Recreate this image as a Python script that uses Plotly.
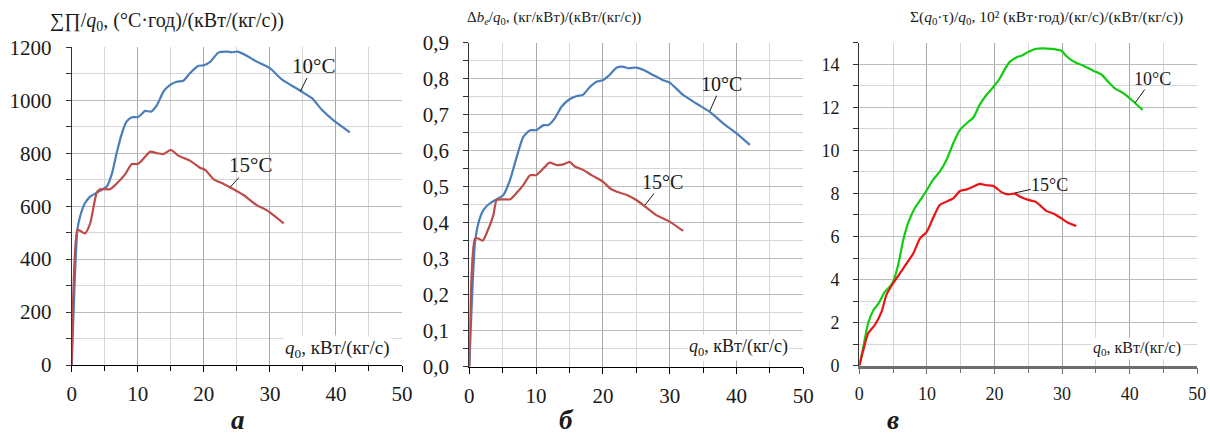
import plotly.graph_objects as go

# ---------------- data ----------------
# Panel a: ΣΠ/q0
a_x10 = [0, 0.86, 1.26, 2.0, 2.8, 3.8, 4.5, 5.3, 6.1, 6.8, 7.6, 8.3, 9.1, 10, 10.6, 11.1, 12, 12.9, 13.9,
         14.9, 15.9, 16.9, 17.9, 19.2, 20, 21, 22.2, 23.5, 24.2, 25.1, 26.3, 28, 30, 31.8, 34.8, 36.4,
         37.9, 39.6, 42.1]
a_y10 = [0, 510, 560, 611, 636, 651, 661, 674, 724, 800, 875, 919, 936, 936, 948, 960, 957, 982, 1033,
         1058, 1070, 1074, 1102, 1130, 1132, 1146, 1180, 1184, 1181, 1184, 1171, 1146, 1121, 1079, 1033, 1007,
         963, 925, 879]
a_x15 = [0, 0.86, 1.26, 2.0, 2.8, 3.8, 4.3, 5.8, 6.6, 8.1, 9.1, 10, 10.6, 11.9, 12.9, 13.9, 15, 16.2,
         17.9, 19.4, 20.2, 21.5, 23, 24.5, 26, 28, 29.5, 32.1]
a_y15 = [0, 510, 507, 497, 535, 652, 664, 664, 680, 721, 759, 759, 772, 806, 800, 797, 812, 790,
         772, 745, 737, 701, 684, 664, 642, 604, 585, 535]

# Panel b: Δbe/q0
b_x10 = [0, 0.85, 1.35, 2.1, 3.1, 4.1, 5.1, 6.1, 7.1, 8.1, 9.1, 10, 11.1, 11.8, 12.8, 13.8, 15, 16.1, 17,
         18.1, 19.1, 20, 20.8, 22.1, 23.1, 23.8, 25, 26.1, 27.5, 29, 30, 32, 34, 36, 38, 40, 42]
b_y10 = [0, 0.343, 0.398, 0.435, 0.454, 0.465, 0.477, 0.519, 0.583, 0.639, 0.657, 0.657, 0.671, 0.671,
         0.690, 0.722, 0.743, 0.752, 0.755, 0.778, 0.792, 0.796, 0.807, 0.831, 0.833, 0.829, 0.831, 0.824,
         0.810, 0.796, 0.789, 0.755, 0.731, 0.708, 0.676, 0.648, 0.616]
b_x15 = [0, 0.85, 1.35, 2.0, 2.8, 3.6, 4.1, 5.1, 6.1, 7.1, 8.1, 9.1, 10, 11.1, 12, 13.1, 14.1, 15, 15.8,
         17.1, 18.3, 20, 21.1, 22.1, 23.6, 25, 27, 28, 30, 32]
b_y15 = [0, 0.356, 0.356, 0.350, 0.380, 0.421, 0.463, 0.465, 0.465, 0.483, 0.505, 0.532, 0.532, 0.551,
         0.567, 0.560, 0.562, 0.569, 0.556, 0.546, 0.532, 0.514, 0.495, 0.486, 0.477, 0.463, 0.435, 0.421,
         0.403, 0.377]

# Panel c: Σ(q0·τ)/q0
c_x10 = [0, 0.6, 1.3, 2.1, 2.8, 3.8, 4.5, 5.0, 5.8, 6.5, 7.3, 8.2, 9.2, 10, 10.9, 11.9, 12.9, 13.9, 14.9,
         15.9, 16.9, 17.8, 18.8, 19.8, 20.8, 21.6, 22.3, 23.3, 24.0, 24.8, 26.0, 27.2, 28.5, 29.3, 29.9,
         30.7, 31.9, 33.1, 34.6, 35.9, 36.8, 37.8, 39.1, 40.3, 41.9]
c_y10 = [0, 0.88, 1.97, 2.59, 2.87, 3.44, 3.67, 3.90, 4.75, 5.84, 6.69, 7.31, 7.77, 8.16, 8.63, 9.01,
         9.55, 10.33, 10.95, 11.26, 11.54, 12.11, 12.57, 12.93, 13.35, 13.81, 14.12, 14.33, 14.39, 14.54,
         14.71, 14.74, 14.71, 14.67, 14.63, 14.36, 14.09, 13.94, 13.70, 13.50, 13.19, 12.88, 12.65, 12.34,
         11.88]
c_x15 = [0, 0.6, 1.3, 2.3, 3.3, 4.0, 5.0, 6.0, 7.0, 8.0, 9.0, 10, 10.9, 11.9, 12.9, 13.9, 14.9, 15.9,
         16.9, 17.8, 18.8, 19.8, 21.1, 22.0, 23.0, 23.8, 25.0, 26.0, 26.7, 27.7, 28.7, 29.9, 30.9, 32.1]
c_y15 = [0, 0.73, 1.50, 1.89, 2.51, 3.28, 3.83, 4.29, 4.75, 5.22, 5.92, 6.23, 6.85, 7.46, 7.62, 7.77,
         8.11, 8.19, 8.32, 8.44, 8.38, 8.35, 8.05, 7.96, 7.99, 7.85, 7.70, 7.62, 7.46, 7.18, 7.07, 6.84,
         6.64, 6.49]

x_ticks = [0, 10, 20, 30, 40, 50]
a_yticks = [0, 200, 400, 600, 800, 1000, 1200]
b_yticks = [0.0, 0.1, 0.2, 0.3, 0.4, 0.5, 0.6, 0.7, 0.8, 0.9]
b_yticklabels = ["0,0", "0,1", "0,2", "0,3", "0,4", "0,5", "0,6", "0,7", "0,8", "0,9"]
c_yticks = [0, 2, 4, 6, 8, 10, 12, 14]

titles = ["∑∏/<i>q</i><sub>0</sub>, (°C·год)/(кВт/(кг/с))",
          "Δ<i>b<sub>e</sub></i>/<i>q</i><sub>0</sub>, (кг/кВт)/(кВт/(кг/с))",
          "Σ(<i>q</i><sub>0</sub>·τ)/<i>q</i><sub>0</sub>, 10² (кВт·год)/(кг/с)/(кВт/(кг/с))"]
xlabel = "<i>q</i><sub>0</sub>, кВт/(кг/с)"
letters = ["а", "б", "в"]
series_names = ["10°C", "15°C"]

# ---------------- style ----------------
FONT = "Times New Roman, Liberation Serif, DejaVu Serif, serif"
BLUE = "#4a7ebb"
RED_AB = "#be4b48"
GREEN = "#11cc11"
RED_C = "#ee1111"
W, H = 1210, 441

def px_dom_x(l, r):
    return [l / W, r / W]

def px_dom_y(bottom, top):
    return [1 - bottom / H, 1 - top / H]

fig = go.Figure()

panels = [
    dict(xd=px_dom_x(71.7, 402), yd=px_dom_y(365, 47.3), xs=[(a_x10, a_y10, BLUE), (a_x15, a_y15, RED_AB)]),
    dict(xd=px_dom_x(469.3, 803.3), yd=px_dom_y(366.7, 42.7), xs=[(b_x10, b_y10, BLUE), (b_x15, b_y15, RED_AB)]),
    dict(xd=px_dom_x(859.3, 1197.3), yd=px_dom_y(365.7, 42.7), xs=[(c_x10, c_y10, GREEN), (c_x15, c_y15, RED_C)]),
]

for i, p in enumerate(panels):
    suf = "" if i == 0 else str(i + 1)
    for j, (xx, yy, col) in enumerate(p["xs"]):
        fig.add_trace(go.Scatter(x=xx, y=yy, mode="lines", name=series_names[j],
                                 line=dict(color=col, width=2.2, shape="spline", smoothing=0.6),
                                 xaxis="x" + suf, yaxis="y" + suf, showlegend=False,
                                 hoverinfo="skip"))

tick_font_ab = dict(family=FONT, size=21, color="#1a1a1a")
tick_font_c = dict(family=FONT, size=18, color="#1a1a1a")

def xaxis(dom, anchor, tf, linecolor="#000", linewidth=1.3):
    return dict(domain=dom, anchor=anchor, range=[0, 50], tickvals=x_ticks, automargin=False,
                showgrid=True, gridcolor="#a8a8a8", gridwidth=1,
                minor=dict(dtick=5, showgrid=True, gridcolor="#d6d6d6", gridwidth=1,
                           ticks="outside", ticklen=5, tickcolor=linecolor),
                ticks="outside", ticklen=6, tickcolor=linecolor, tickwidth=1,
                showline=True, linecolor=linecolor, linewidth=linewidth,
                zeroline=False, tickfont=tf, ticklabelstandoff=4, fixedrange=True)

def yaxis(dom, anchor, rng, tickvals, minor_dt, tf, ticktext=None):
    d = dict(domain=dom, anchor=anchor, range=rng, tickvals=tickvals, automargin=False,
             showgrid=True, gridcolor="#bcbcbc", gridwidth=1,
             minor=dict(dtick=minor_dt, showgrid=True, gridcolor="#d6d6d6", gridwidth=1,
                        ticks="outside", ticklen=5, tickcolor="#333"),
             ticks="outside", ticklen=5, tickcolor="#333", tickwidth=1,
             showline=True, linecolor="#333", linewidth=1.2,
             zeroline=False, tickfont=tf, ticklabelstandoff=10, fixedrange=True)
    if ticktext is not None:
        d["ticktext"] = ticktext
    return d

fig.update_layout(
    width=W, height=H, margin=dict(l=0, r=0, t=0, b=0, autoexpand=False),
    paper_bgcolor="white", plot_bgcolor="white",
    font=dict(family=FONT, color="#1a1a1a"),
    xaxis=xaxis(panels[0]["xd"], "y", tick_font_ab),
    yaxis=yaxis(panels[0]["yd"], "x", [0, 1200], a_yticks, 100, tick_font_ab),
    xaxis2=xaxis(panels[1]["xd"], "y2", tick_font_ab),
    yaxis2=yaxis(panels[1]["yd"], "x2", [0, 0.9], b_yticks, 0.05, tick_font_ab, b_yticklabels),
    xaxis3=xaxis(panels[2]["xd"], "y3", tick_font_c, linecolor="#6e6e6e", linewidth=2.5),
    yaxis3=yaxis(panels[2]["yd"], "x3", [0, 15], c_yticks, 1, tick_font_c),
)

ann = []
# titles
ann.append(dict(text=titles[0], x=48 / W, y=1 - 22 / H, xref="paper", yref="paper",
                xanchor="left", yanchor="middle", showarrow=False,
                font=dict(family=FONT, size=20, color="#1a1a1a")))
ann.append(dict(text=titles[1], x=465 / W, y=1 - 18 / H, xref="paper", yref="paper",
                xanchor="left", yanchor="middle", showarrow=False,
                font=dict(family=FONT, size=15, color="#1a1a1a")))
ann.append(dict(text=titles[2], x=908 / W, y=1 - 17 / H, xref="paper", yref="paper",
                xanchor="left", yanchor="middle", showarrow=False,
                font=dict(family=FONT, size=15.5, color="#1a1a1a")))
# x labels inside plots
for i, (xr, yc, fs) in enumerate([(392, 349, 19), (790, 347, 18), (1183, 348, 16)]):
    ann.append(dict(text=xlabel, x=xr / W, y=1 - yc / H, xref="paper", yref="paper",
                    xanchor="right", yanchor="middle", showarrow=False, bgcolor="white",
                    borderpad=1, font=dict(family=FONT, size=fs, color="#1a1a1a")))
# panel letters
for L, xc in zip(letters, [238, 566, 893]):
    ann.append(dict(text="<b><i>" + L + "</i></b>", x=xc / W, y=1 - 420 / H, xref="paper", yref="paper",
                    xanchor="center", yanchor="middle", showarrow=False,
                    font=dict(family=FONT, size=27, color="#1a1a1a")))
# curve labels with leader lines
curve_labels = [
    ("x", "y", 34.6, 1033, 13, -26, series_names[0], 21),
    ("x", "y", 24.0, 672, 20, -22, series_names[1], 21),
    ("x2", "y2", 36.0, 0.710, 12, -27, series_names[0], 20),
    ("x2", "y2", 26.3, 0.449, 18, -23, series_names[1], 20),
    ("x3", "y3", 40.8, 12.2, 17, -24, series_names[0], 18),
    ("x3", "y3", 23.0, 8.02, 35, -8, series_names[1], 18),
]
for xr, yr, xv, yv, ax, ay, t, fs in curve_labels:
    ann.append(dict(text=t, x=xv, y=yv, xref=xr, yref=yr, ax=ax, ay=ay, axref="pixel", ayref="pixel",
                    showarrow=True, arrowhead=0, arrowwidth=1, arrowcolor="#1a1a1a", standoff=0,
                    borderpad=0, font=dict(family=FONT, size=fs, color="#1a1a1a")))
fig.update_layout(annotations=ann)

fig.write_html("out.html")
